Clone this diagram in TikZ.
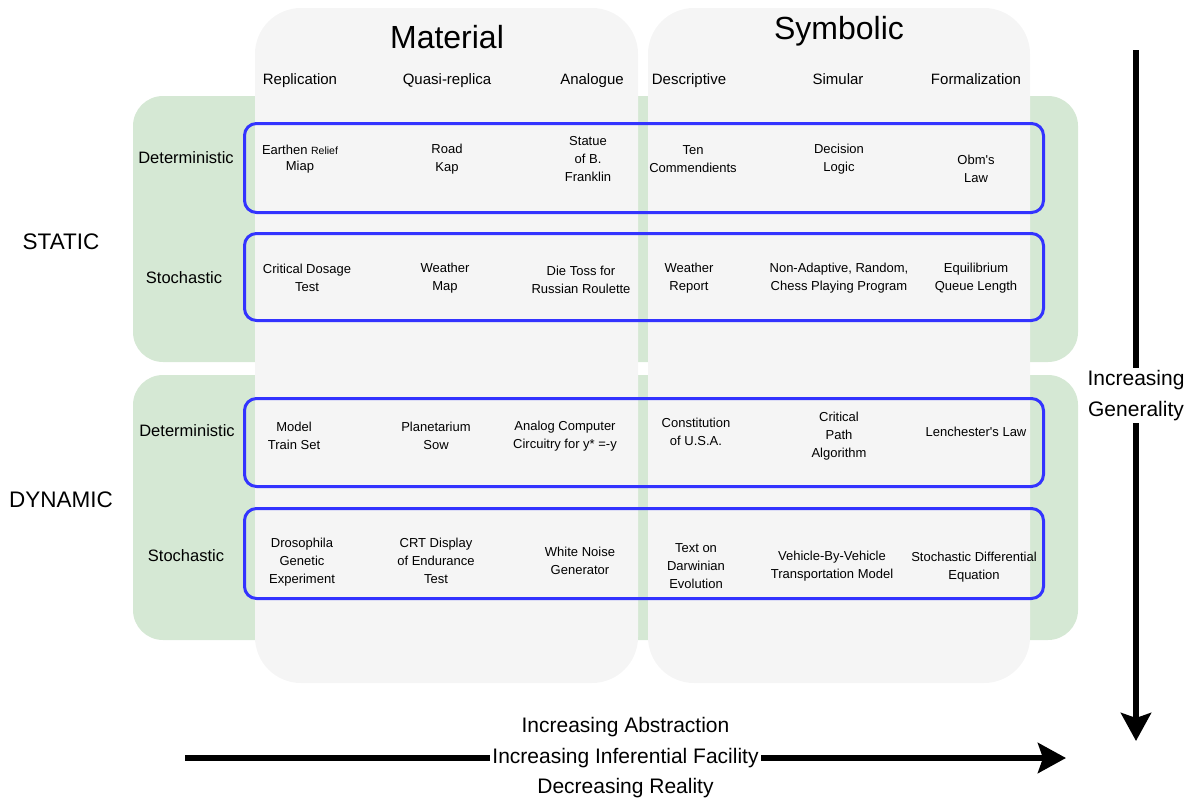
\documentclass[tikz,border=0pt]{standalone}
\usepackage{fontspec}
\setmainfont{Liberation Sans}
\usetikzlibrary{arrows.meta}
\definecolor{zonegreen}{HTML}{D5E8D4}
\definecolor{colgray}{HTML}{F5F5F5}
\definecolor{rowblue}{HTML}{3333FF}

\begin{document}
\begin{tikzpicture}[x=1pt,y=-1pt,
  zone/.style={fill=zonegreen, rounded corners=30pt, inner sep=0pt, outer sep=0pt},
  column/.style={fill=colgray, rounded corners=46pt, inner sep=0pt, outer sep=0pt},
  rowbox/.style={draw=rowblue, line width=3pt, rounded corners=12pt, inner sep=0pt},
  cell/.style={font=\fontsize{13}{18}\selectfont, align=center, inner sep=0pt},
  colhead/.style={font=\fontsize{15}{18}\selectfont, inner sep=0pt, text height=11pt, text depth=3.2pt},
  title/.style={font=\fontsize{32}{38}\selectfont, inner sep=0pt},
  rowlabel/.style={font=\fontsize{16.5}{20}\selectfont, inner sep=0pt},
  grouplabel/.style={font=\fontsize{22.5}{26}\selectfont, inner sep=0pt},
  axislabel/.style={font=\fontsize{21}{30.5}\selectfont, align=center, fill=white, inner sep=2pt},
  axis/.style={line width=6pt, -{Stealth[length=28pt, width=30pt, inset=5pt]}}
]
\useasboundingbox (0,0) rectangle (1199,803);

% static / dynamic bands
\node[zone, minimum width=945pt, minimum height=266pt] (staticzone) at (605.5,229) {};
\node[zone, minimum width=945pt, minimum height=265pt] (dynamiczone) at (605.5,507.5) {};

% material / symbolic columns
\node[column, minimum width=383pt, minimum height=675pt] (materialcol) at (446.5,345.5) {};
\node[column, minimum width=382pt, minimum height=675pt] (symboliccol) at (839,345.5) {};

% row frames
\node[rowbox, minimum width=799pt, minimum height=89pt] (row1) at (644,168) {};
\node[rowbox, minimum width=799pt, minimum height=87pt] (row2) at (644,277) {};
\node[rowbox, minimum width=799pt, minimum height=88pt] (row3) at (644,442.5) {};
\node[rowbox, minimum width=799pt, minimum height=90pt] (row4) at (644,553.5) {};

% titles and column heads
\node[title] (material) at (447,37) {Material};
\node[title] (symbolic) at (839,31) {Symbolic};
\node[colhead] (hrep) at (300,81) {Replication};
\node[colhead] (hquasi) at (447,81) {Quasi-replica};
\node[colhead] (hana) at (592,81) {Analogue};
\node[colhead] (hdesc) at (689,81) {Descriptive};
\node[colhead] (hsim) at (838,81) {Simular};
\node[colhead] (hform) at (976,81) {Formalization};

% row labels
\node[grouplabel] (static) at (61,242) {STATIC};
\node[grouplabel] (dynamic) at (61,500) {DYNAMIC};
\node[rowlabel] (sdet) at (186,158) {Deterministic};
\node[rowlabel] (ssto) at (184,278) {Stochastic};
\node[rowlabel] (ddet) at (187,431) {Deterministic};
\node[rowlabel] (dsto) at (186,556) {Stochastic};

% static, deterministic
\node[cell, font=\fontsize{13}{16.5}\selectfont] (c11) at (300,159) {Earthen {\fontsize{10.5}{12}\selectfont Relief}\\Miap};
\node[cell] (c12) at (447,159) {Road\\Kap};
\node[cell] (c13) at (588,159) {Statue\\of B.\\Franklin};
\node[cell] (c14) at (693,159) {Ten\\Commendients};
\node[cell] (c15) at (839,159) {Decision\\Logic};
\node[cell] (c16) at (976,169) {Obm\textquotesingle s\\Law};

% static, stochastic
\node[cell] (c21) at (307,278) {Critical Dosage\\Test};
\node[cell] (c22) at (445,278) {Weather\\Map};
\node[cell] (c23) at (581,280) {Die Toss for\\Russian Roulette};
\node[cell] (c24) at (689,278) {Weather\\Report};
\node[cell] (c25) at (839,278) {Non-Adaptive, Random,\\Chess Playing Program};
\node[cell] (c26) at (976,278) {Equilibrium\\Queue Length};

% dynamic, deterministic
\node[cell] (c31) at (294,436) {Model\\Train Set};
\node[cell] (c32) at (436,436) {Planetarium\\Sow};
\node[cell] (c33) at (565,436) {Analog Computer\\Circuitry for y* =-y};
\node[cell] (c34) at (696,432) {Constitution\\of U.S.A.};
\node[cell] (c35) at (839,436) {Critical\\Path\\Algorithm};
\node[cell] (c36) at (976,432) {Lenchester\textquotesingle s Law};

% dynamic, stochastic
\node[cell] (c41) at (302,562) {Drosophila\\Genetic\\Experiment};
\node[cell] (c42) at (436,561) {CRT Display\\of Endurance\\Test};
\node[cell] (c43) at (580,561) {White Noise\\Generator};
\node[cell] (c44) at (696,566) {Text on\\Darwinian\\Evolution};
\node[cell] (c45) at (832,566) {Vehicle-By-Vehicle\\Transportation Model};
\node[cell] (c46) at (974,567) {Stochastic Differential\\Equation};

% axes
\coordinate (gtop) at (1136,50);
\coordinate (gbot) at (1136,741);
\draw[axis] (gtop) -- (gbot) node[midway, axislabel] (generality) {Increasing\\Generality};

\coordinate (absL) at (185,758);
\coordinate (absR) at (1066,758);
\draw[axis] (absL) -- (absR) node[midway, axislabel] (abstraction) {Increasing Abstraction\\Increasing Inferential Facility\\Decreasing Reality};
\end{tikzpicture}
\end{document}
